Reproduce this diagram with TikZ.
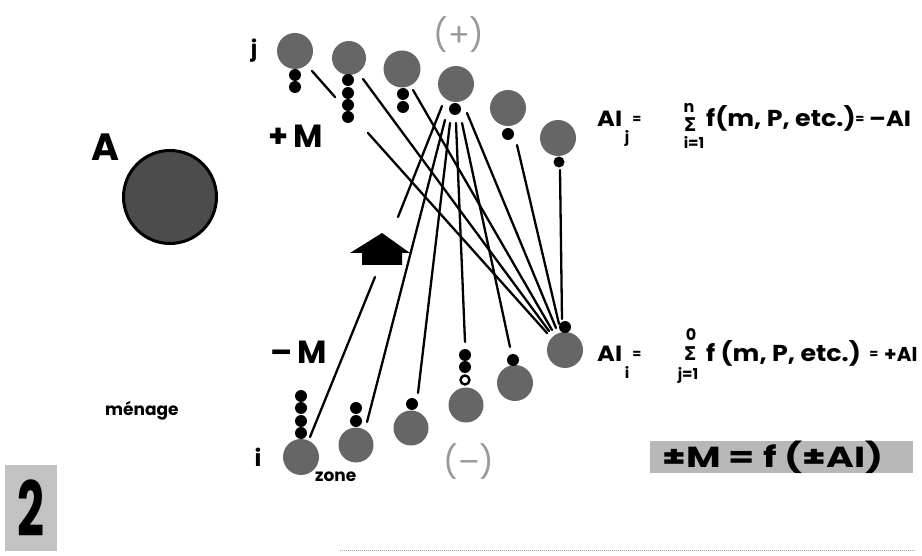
\documentclass[tikz,border=0pt]{standalone}
\usepackage{fontspec}
\setmainfont{Poppins}
\newfontfamily\dejavu{DejaVu Sans}
\usetikzlibrary{calc}
\newcommand\myfs[1]{\fontsize{#1}{#1}\selectfont}
\newcommand\wide[1]{\scalebox{1.1}[1]{#1}}
\tikzset{
  zonec/.style={circle, fill=black!60, minimum size=36pt, inner sep=0pt},
  dotn/.style={circle, fill=black, minimum size=12pt, inner sep=0pt},
  ringn/.style={circle, draw=black, fill=white, line width=2.4pt, minimum size=9pt, inner sep=0pt},
  link/.style={line width=2.3pt, line cap=round},
  lbl/.style={inner sep=0pt, font=\bfseries},
  signlbl/.style={inner sep=0pt, text=black!40},
  dotbox/.style={fill=black!28, draw=none, inner sep=0pt, font=\bfseries}
}
\begin{document}
\begin{tikzpicture}[x=1pt, y=-1pt]
\useasboundingbox (0,0) rectangle (922,556);
% ---------- link end points ----------
\coordinate (s1) at (312,71);   \coordinate (g1a) at (335,97);  \coordinate (g1b) at (368,133);
\coordinate (e1) at (547,333);
\coordinate (s2) at (363,79);   \coordinate (e2) at (549,331);
\coordinate (s3) at (413,90);   \coordinate (e3) at (552,330);
\coordinate (s4f) at (467,113); \coordinate (e4f) at (556,328);
\coordinate (s5) at (517,145);  \coordinate (e5) at (559,324);
\coordinate (s6) at (560,170);  \coordinate (e6) at (562,319);
\coordinate (sa) at (442,106);  \coordinate (ga) at (398,217); \coordinate (gb) at (375,277);
\coordinate (ea) at (310,437);
\coordinate (sb) at (445,120);  \coordinate (eb) at (367,422);
\coordinate (sc) at (450,123);  \coordinate (ec) at (418,393);
\coordinate (sd) at (456,123);  \coordinate (ed) at (465,342);
\coordinate (se) at (462,123);  \coordinate (ee) at (510,347);
% ---------- links ----------
\draw[link] (s1) -- (g1a) (g1b) -- (e1);
\draw[link] (s2) -- (e2);
\draw[link] (s3) -- (e3);
\draw[link] (s4f) -- (e4f);
\draw[link] (s5) -- (e5);
\draw[link] (s6) -- (e6);
\draw[link] (sa) -- (ga) (gb) -- (ea);
\draw[link] (sb) -- (eb);
\draw[link] (sc) -- (ec);
\draw[link] (sd) -- (ed);
\draw[link] (se) -- (ee);
% ---------- top zones (j) ----------
\node[zonec] (t1) at (295,51) {};
\node[dotn] (t1a) at (295,75) {};
\node[dotn] (t1b) at (295,87) {};
\node[zonec, minimum size=34pt] (t2) at (349,58) {};
\node[dotn] (t2a) at (348,80) {};
\node[dotn] (t2b) at (348,93) {};
\node[dotn] (t2c) at (348,105) {};
\node[dotn] (t2d) at (348,117) {};
\node[zonec, minimum size=37pt] (t3) at (402,69) {};
\node[dotn] (t3a) at (403,94) {};
\node[dotn] (t3b) at (403,107) {};
\node[zonec] (t4) at (456,84) {};
\node[dotn] (t4a) at (455,109) {};
\node[zonec] (t5) at (508,108) {};
\node[dotn] (t5a) at (508,134) {};
\node[zonec] (t6) at (558,138) {};
\node[dotn, minimum size=11pt] (t6a) at (559,162) {};
% ---------- bottom zones (i) ----------
\node[zonec] (b1) at (301,457) {};
\node[dotn] (b1a) at (301,396) {};
\node[dotn] (b1b) at (301,408) {};
\node[dotn] (b1c) at (301,421) {};
\node[dotn] (b1d) at (301,433) {};
\node[zonec, minimum size=35pt] (b2) at (356,445) {};
\node[dotn] (b2a) at (356,408) {};
\node[dotn] (b2b) at (356,421) {};
\node[zonec, minimum size=35pt] (b3) at (411,428) {};
\node[dotn] (b3a) at (412,404) {};
\node[zonec, minimum size=35pt] (b4) at (466,405) {};
\node[dotn] (b4a) at (465,355) {};
\node[dotn] (b4b) at (465,367) {};
\node[ringn] (b4c) at (465,380) {};
\node[zonec] (b5) at (515,383) {};
\node[dotn] (b5a) at (513,360) {};
\node[zonec] (b6) at (565,350) {};
\node[dotn] (b6a) at (565,327) {};
% ---------- household ----------
\node[circle, fill=black!70, draw=black, line width=3pt, minimum size=93pt, inner sep=0pt] (hh) at (170,197) {};
\node[lbl] (lA) at (106,147) {\myfs{38}A};
\node[lbl, anchor=base west] (lmen) at (105,415) {\myfs{17}ménage};
% ---------- house arrow ----------
\fill[black] (350,253) -- (382,233) -- (410,253) -- (402,253) -- (402,265) -- (362,265) -- (362,253) -- cycle;
% ---------- labels ----------
\node[lbl] (lj) at (254,51) {\myfs{22}j};
\node[lbl] (li) at (258,457) {\myfs{23}i};
\node[lbl, anchor=base west] (lpM) at (268,148) {\myfs{32}+\,M};
\node[lbl, anchor=base west] (lmM) at (270,363) {\myfs{32}–\,M};
\node[lbl, anchor=base west] (lzone) at (315,481) {\myfs{17}zone};
\node[signlbl] (lplus) at (459,35) {\myfs{32}(+)};
\node[signlbl] (lminus) at (469,462) {\myfs{32}(–)};
% ---------- formula j ----------
\node[lbl, anchor=base west] (fj1) at (597,127) {\wide{\myfs{22}AI}};
\node[lbl] (fj2) at (627,138) {\myfs{15}j};
\node[lbl] (fj3) at (637,120) {\myfs{13}=};
\node[lbl] (fjn) at (689,108) {\myfs{16}n};
\node[lbl] (fjS) at (690,125) {\dejavu\bfseries\myfs{19}Σ};
\node[lbl] (fjl) at (694,142) {\myfs{15}i=1};
\node[lbl, anchor=base west] (fj4) at (706,127) {\wide{\myfs{23}f(m, P, etc.)}};
\node[lbl] (fj5) at (860,120) {\myfs{13}=};
\node[lbl, anchor=base west] (fj6) at (869,127) {\wide{\myfs{22}–AI}};
% ---------- formula i ----------
\node[lbl, anchor=base west] (fi1) at (597,362) {\wide{\myfs{22}AI}};
\node[lbl] (fi2) at (627,372) {\myfs{15}i};
\node[lbl] (fi3) at (637,355) {\myfs{13}=};
\node[lbl] (fio) at (691,335) {\myfs{16}0};
\node[lbl] (fiS) at (690,354) {\dejavu\bfseries\myfs{19}Σ};
\node[lbl] (fil) at (688,375) {\myfs{15}j=1};
\node[lbl, anchor=base west] (fi4) at (706,362) {\wide{\myfs{23}f (m, P, etc.)}};
\node[lbl] (fi5) at (874,355) {\myfs{13}=};
\node[lbl, anchor=base west] (fi6) at (884,362) {\myfs{20}+AI};
% ---------- summary box ----------
\node[dotbox, minimum width=263pt, minimum height=30pt] (sumbox) at (781.5,457)
  {\hspace*{-17pt}\scalebox{1.3}[1]{\myfs{29}±M = f (±AI)}};
% ---------- figure number ----------
\node[dotbox, fill=black!24, minimum width=52pt, minimum height=86pt] (numbox) at (31,508)
  {\scalebox{0.62}[1]{\myfs{76}2}};
% ---------- faint rule ----------
\draw[black!35, line width=1pt, densely dotted] (340,550) -- (915,550);
\end{tikzpicture}
\end{document}
